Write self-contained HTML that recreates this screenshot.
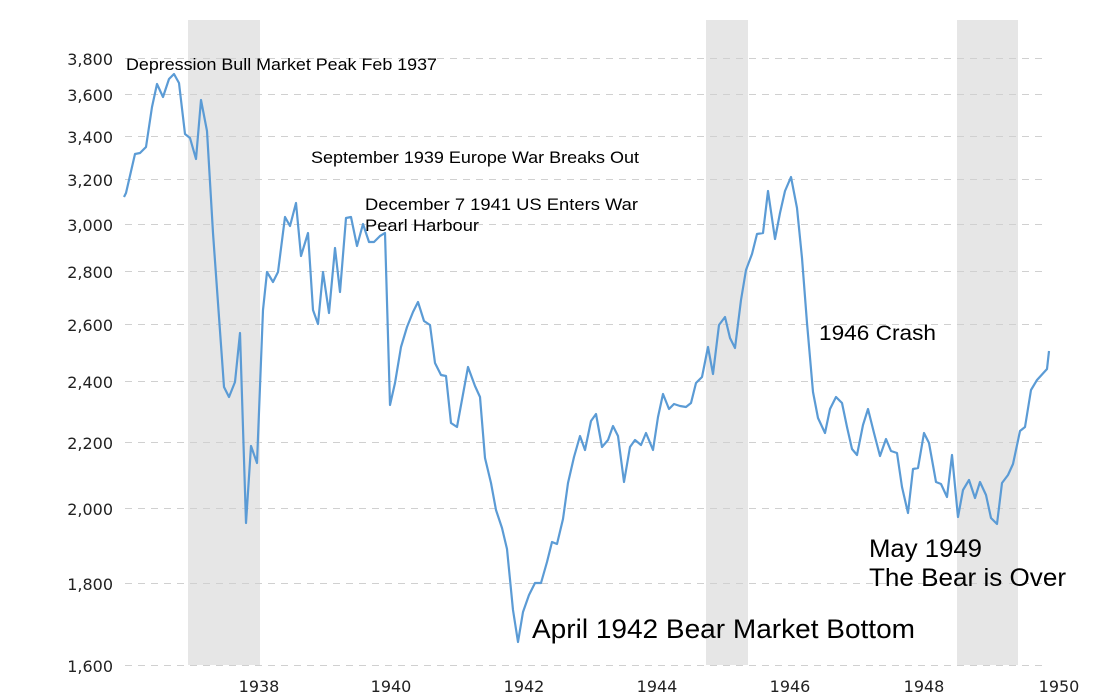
<!DOCTYPE html>
<html><head><meta charset="utf-8"><style>
html,body{margin:0;padding:0;background:#fff}
svg{display:block;font-family:"Liberation Sans",sans-serif}
</style></head><body>
<svg width="1110" height="700" viewBox="0 0 1110 700">
<rect x="188" y="20" width="72" height="645" fill="#e6e6e6"/>
<rect x="706" y="20" width="42" height="645" fill="#e6e6e6"/>
<rect x="957" y="20" width="61" height="645" fill="#e6e6e6"/>
<g stroke="#d0d0d0" stroke-width="1" stroke-dasharray="7,6">
<line x1="125" x2="1046" y1="58.5" y2="58.5"/><line x1="125" x2="1046" y1="94.5" y2="94.5"/>
<line x1="125" x2="1046" y1="136.5" y2="136.5"/><line x1="125" x2="1046" y1="179.5" y2="179.5"/>
<line x1="125" x2="1046" y1="224.5" y2="224.5"/><line x1="125" x2="1046" y1="271.5" y2="271.5"/>
<line x1="125" x2="1046" y1="324.5" y2="324.5"/><line x1="125" x2="1046" y1="381.5" y2="381.5"/>
<line x1="125" x2="1046" y1="442.5" y2="442.5"/><line x1="125" x2="1046" y1="508.5" y2="508.5"/>
<line x1="125" x2="1046" y1="583.5" y2="583.5"/><line x1="125" x2="1046" y1="665.5" y2="665.5"/>
</g>
<g fill="#222" font-size="16" text-anchor="end" font-family="DejaVu Sans, sans-serif">
<text x="113" y="65">3,800</text><text x="113" y="101">3,600</text><text x="113" y="143">3,400</text>
<text x="113" y="186">3,200</text><text x="113" y="231">3,000</text><text x="113" y="278">2,800</text>
<text x="113" y="331">2,600</text><text x="113" y="388">2,400</text><text x="113" y="449">2,200</text>
<text x="113" y="515">2,000</text><text x="113" y="590">1,800</text><text x="113" y="672">1,600</text>
</g>
<g fill="#222" font-size="16" text-anchor="middle" font-family="DejaVu Sans, sans-serif">
<text x="259" y="692">1938</text><text x="391" y="692">1940</text><text x="524" y="692">1942</text>
<text x="657" y="692">1944</text><text x="790" y="692">1946</text><text x="924" y="692">1948</text><text x="1059" y="692">1950</text>
</g>
<polyline fill="none" stroke="#5b9bd5" stroke-width="2.2" stroke-linejoin="round" points="
124,197 126,193 135,154 140,153 146,147 152,107 157,84 163,97 169,79 174,74 179,83 185,134 190,138 196,159 201,100 207,131 213,233 219,317 224,387 229,397 235,382 240,333 246,523 251,446 257,463 263,310 267,272 273,282 278,272 285,217 290,226 296,203 301,256 308,233 313,310 318,324 323,272 329,313 335,248 340,292 346,218 351,217 357,246 363,224 369,242 374,242 380,236 385,233 390,405 395,383 401,347 407,327 413,312 418,302 424,321 430,325 435,363 441,375 446,376 451,423 457,427 468,367 475,386 480,397 485,458 491,483 496,510 502,528 507,549 513,610 518,642 523,612 529,595 535,583 541,583 547,562 552,542 557,544 563,519 568,483 574,457 580,436 585,450 591,421 596,414 602,447 608,440 613,426 618,436 624,482 630,447 635,440 641,445 646,433 653,450 658,417 663,394 669,409 674,404 680,406 686,407 691,403 696,383 702,377 708,347 713,374 719,325 725,317 730,338 735,348 741,300 746,270 752,254 757,234 763,233 768,191 775,239 780,213 785,191 791,177 797,208 802,258 807,323 813,392 818,418 825,433 830,409 836,397 842,403 847,427 852,449 857,455 863,425 868,409 874,433 880,456 886,439 891,451 897,453 902,487 908,513 913,469 918,468 924,433 929,443 936,482 941,484 947,497 952,455 958,517 963,490 969,480 975,498 980,482 986,495 991,518 997,524 1002,483 1008,475 1013,464 1020,431 1025,427 1031,390 1037,380 1047,369 1049,351"/>
<g fill="#000">
<text x="126" y="70" font-size="17" textLength="311" lengthAdjust="spacingAndGlyphs">Depression Bull Market Peak Feb 1937</text>
<text x="311" y="163" font-size="17" textLength="328" lengthAdjust="spacingAndGlyphs">September 1939 Europe War Breaks Out</text>
<text x="365" y="210" font-size="17" textLength="273" lengthAdjust="spacingAndGlyphs">December 7 1941 US Enters War</text>
<text x="365" y="231" font-size="17" textLength="114" lengthAdjust="spacingAndGlyphs">Pearl Harbour</text>
<text x="819" y="340" font-size="21" textLength="117" lengthAdjust="spacingAndGlyphs">1946 Crash</text>
<text x="532" y="638" font-size="27" textLength="383" lengthAdjust="spacingAndGlyphs">April 1942 Bear Market Bottom</text>
<text x="869" y="557" font-size="25" textLength="113" lengthAdjust="spacingAndGlyphs">May 1949</text>
<text x="869" y="586" font-size="25" textLength="197" lengthAdjust="spacingAndGlyphs">The Bear is Over</text>
</g>
</svg>
</body></html>
